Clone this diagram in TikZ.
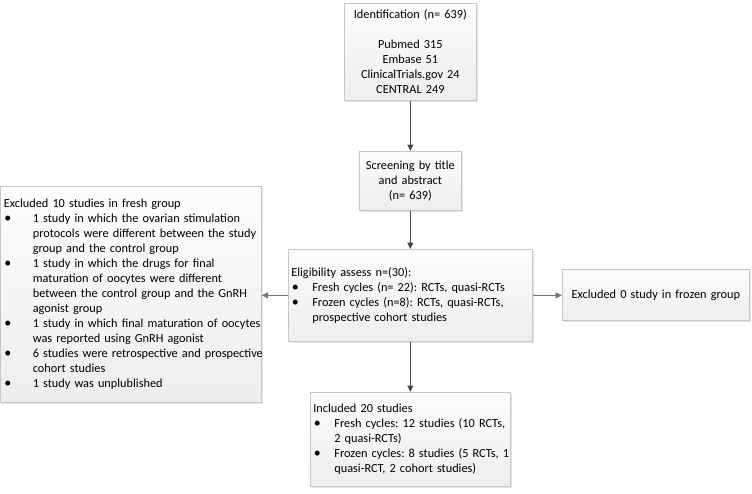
\documentclass[tikz,border=0pt]{standalone}
\usepackage{fontspec}
\setmainfont{Carlito}
\usetikzlibrary{arrows.meta,shadows}
\frenchspacing
\newcommand\mybul[2]{\mbox{\makebox[#1][l]{\hspace{0.5pt}\raisebox{-0.3pt}{\fontsize{14}{15}\selectfont\textbullet}}#2}}
\newcommand\myind[2]{\mbox{\hspace*{#1}#2}}
\tikzset{
  box/.style={draw=gray!45, line width=0.7pt, top color=gray!2, bottom color=gray!14,
    drop shadow={shadow xshift=1.6pt, shadow yshift=-1.6pt, opacity=0.3, fill=gray!70},
    anchor=north west, inner ysep=0pt, font=\fontsize{12.3}{15}\selectfont\frenchspacing,
    execute at begin node={\hbadness=10000 \hfuzz=200pt}},
  arr/.style={draw=black!72, line width=1pt, -{Triangle[length=6.5pt,width=6pt]}},
  harr/.style={draw=black!55, line width=1.4pt, -{Triangle[length=6.5pt,width=6pt]}}
}
\begin{document}
\begin{tikzpicture}[x=1pt,y=-1pt]
\useasboundingbox (0,0) rectangle (752,493);

\node[box, minimum width=132pt, minimum height=97pt, text width=126pt, inner xsep=3pt, align=center] (ident) at (344,3)
 {Identification (n= 639)\\[15pt]Pubmed 315\\Embase 51\\ClinicalTrials.gov 24\\CENTRAL 249};

\node[box, minimum width=102pt, minimum height=59pt, text width=96pt, inner xsep=3pt, align=center] (screen) at (359,151)
 {Screening by title\\and abstract\\(n= 639)};

\node[box, minimum width=244pt, minimum height=92pt, text width=238pt, inner xsep=3pt, align=left] (elig) at (288,249)
 {Eligibility assess n=(30):\\
  \mybul{21pt}{Fresh cycles (n= 22): RCTs, quasi-RCTs}\\
  \mybul{21pt}{Frozen cycles (n=8): RCTs, quasi-RCTs,}\\
  \myind{21pt}{prospective cohort studies}};

\node[box, minimum width=261pt, minimum height=216pt, text width=254pt, inner xsep=3.5pt, align=left] (fresh) at (0,186)
 {Excluded 10 studies in fresh group\\
  \mybul{29pt}{1 study in which the ovarian stimulation}\\
  \myind{29pt}{protocols were different between the study}\\
  \myind{29pt}{group and the control group}\\
  \mybul{29pt}{1 study in which the drugs for final}\\
  \myind{29pt}{maturation of oocytes were different}\\
  \myind{29pt}{between the control group and the GnRH}\\
  \myind{29pt}{agonist group}\\
  \mybul{29pt}{1 study in which final maturation of oocytes}\\
  \myind{29pt}{was reported using GnRH agonist}\\
  \mybul{29pt}{6 studies were retrospective and prospective}\\
  \myind{29pt}{cohort studies}\\
  \mybul{29pt}{1 study was unplublished}};

\node[box, minimum width=187pt, minimum height=51pt, text width=181pt, inner xsep=3pt, align=center] (frozen) at (562,269)
 {Excluded 0 study in frozen group};

\node[box, minimum width=200pt, minimum height=94pt, text width=194pt, inner xsep=3pt, align=left] (incl) at (310,392)
 {Included 20 studies\\
  \mybul{21pt}{Fresh cycles: 12 studies (10 RCTs,}\\
  \myind{21pt}{2 quasi-RCTs)}\\
  \mybul{21pt}{Frozen cycles: 8 studies (5 RCTs, 1}\\
  \myind{21pt}{quasi-RCT, 2 cohort studies)}};

\draw[arr] (ident.south) -- (screen.north);
\draw[arr] (screen.south) -- (elig.north);
\draw[arr] (elig.south) -- (incl.north);
\draw[harr] (elig.west) -- (fresh.east |- elig.west);
\draw[harr] (elig.east) -- (frozen.west |- elig.east);
\end{tikzpicture}
\end{document}
